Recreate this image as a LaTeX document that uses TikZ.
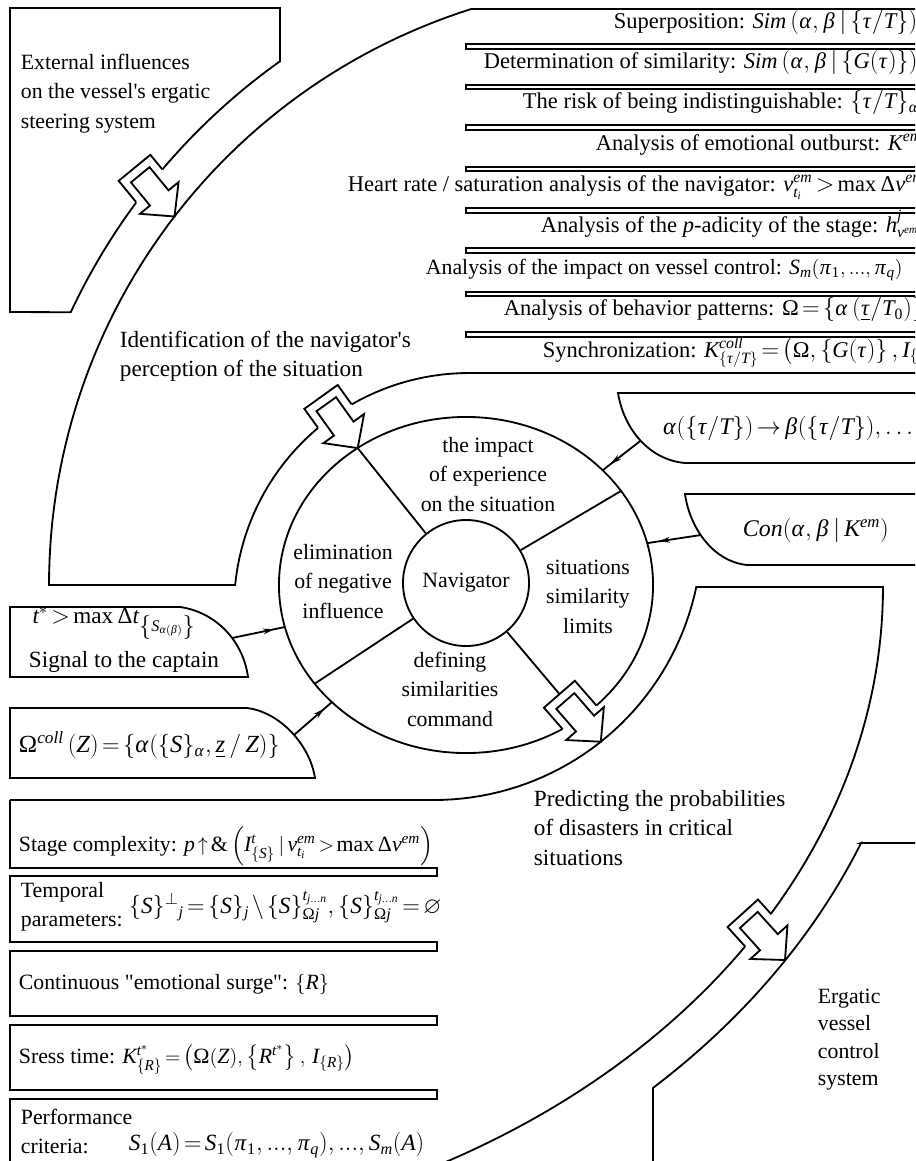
\documentclass[tikz,border=0pt]{standalone}
\usepackage{amssymb}
\usepackage{mathspec}
\setmainfont{Liberation Serif}
\setmathsfont(Digits,Latin,Greek){Liberation Serif}
\usetikzlibrary{decorations.markings, arrows.meta}
\thickmuskip=2.5mu plus 1mu
\medmuskip=2mu plus 1mu
\newcommand{\tmax}{\mbox{max}\,}

% hollow block arrow: #1 tip, #2 direction, #3 region on the tail side of the crossed line
\newcommand{\hollowarrow}[3]{%
  \fill[white, shift={(#1)}, rotate=-#2] (-22,-20.5) -- (-63,-20.5) -- (-63,20.5) -- (-22,20.5) -- cycle;
  \begin{scope}[even odd rule]
    \clip #3;
    \draw[shift={(#1)}, rotate=-#2] (-22,-20.5) -- (-63,-20.5) -- (-63,20.5) -- (-22,20.5);
  \end{scope}
  \draw[fill=white, shift={(#1)}, rotate=-#2] (0,0) -- (-24,25) -- (-24,12) -- (-54,12)
    -- (-54,-12) -- (-24,-12) -- (-24,-25) -- cycle;
}

\begin{document}
\begin{tikzpicture}[x=0.025cm, y=-0.025cm, line width=1.3pt, line join=miter,
    font=\fontsize{16.5}{21}\selectfont,
    txt/.style={inner sep=0pt},
    small text/.style={inner sep=0pt, font=\fontsize{15.5}{21}\selectfont},
    sector/.style={small text, align=center, anchor=north},
    bar/.style={inner sep=0pt, anchor=base west, font=\fontsize{16}{21}\selectfont},
    arrow style/.style={
        postaction={decorate},
        decoration={markings, mark=at position 0.8 with {\arrow{Stealth[length=8pt, width=4pt]}}}
    }]

    \useasboundingbox (0,0) rectangle (915,1161);
    \clip (0,0) rectangle (915,1161);

    % box, top left
    \draw (10,8) -- (280,8) -- (280,61.5)
        -- plot[domain=234.5:205.1, samples=40] ({653+643*cos(\x)},{585+643*sin(\x)}) -- (10,312) -- cycle;
    % band round the top left
    \draw (920,9) -- (471.4,9)
        -- plot[domain=252.5:180, samples=60] ({653+604*cos(\x)},{585+604*sin(\x)})
        -- plot[domain=185.6:270, samples=40] ({469+235*cos(\x)},{608+235*sin(\x)}) -- (920,373);
    % band round the bottom right
    \draw (10,800)
        -- plot[domain=90:11.84, samples=40] ({434+268*cos(\x)},{532+268*sin(\x)})
        -- plot[domain=0:63, samples=60] ({40+843*cos(\x)},{587+656*sin(\x)});
    % box, bottom right
    \draw (920,843) -- (861,843)
        -- plot[domain=21.58:46.03, samples=40] ({40+883*cos(\x)},{587+696*sin(\x)}) -- (653,1170);

    % stack, top right
    \draw (920,44) -- (466,44) -- (466,49) -- (920,49);
    \draw (920,85) -- (466,85) -- (466,89) -- (920,89);
    \draw (920,125) -- (466,125) -- (466,130) -- (920,130);
    \draw (920,167) -- (466,167) -- (466,171) -- (920,171);
    \draw (920,208) -- (466,208) -- (466,213) -- (920,213);
    \draw (920,248) -- (466,248) -- (466,253) -- (920,253);
    \draw (920,292) -- (466,292) -- (466,296) -- (920,296);
    \draw (920,332) -- (466,332) -- (466,337) -- (920,337);

    % stack, bottom left
    \draw (10,800) -- (10,868) -- (437,868) -- (437,876) -- (10,876) -- (10,942) -- (437,942)
        -- (437,951) -- (10,951) -- (10,1016) -- (437,1016) -- (437,1025) -- (10,1025)
        -- (10,1090) -- (437,1090) -- (437,1099) -- (10,1099) -- (10,1170);

    % boxes with a curved side
    \draw (920,393) -- (618,393) .. controls (624,430) and (650,460) .. (685,463) -- (920,463);
    \draw (920,494) -- (685,494) .. controls (690,530) and (715,562) .. (747,565) -- (920,565);
    \draw (10,607) -- (180,607) .. controls (215,612) and (243,640) .. (248,677) -- (10,677) -- cycle;
    \draw (10,708) -- (247,708) .. controls (280,712) and (310,745) .. (315,778) -- (10,778) -- cycle;

    % ring and navigator
    \draw (466,585) ellipse[x radius=4.675cm, y radius=4.2cm];
    \node[circle, draw, minimum size=3.15cm, small text] (nav) at (466,583) {Navigator};

    \coordinate (tip1) at (174.5,216.5);
    \coordinate (tip2) at (357.7,448.1);
    \coordinate (tip3) at (600.8,741.7);
    \coordinate (tip4) at (785,960);
    \coordinate (tail3) at (565.3,701);
    \coordinate (ringNE) at (621,491);
    \coordinate (ringSW) at (314.7,683.7);

    \draw (nav.129) -- (tip2);
    \draw (nav.31) -- (ringNE);
    \draw (nav.214) -- (ringSW);
    \draw (nav.310) -- (tail3);

    % inputs to the ring
    \coordinate (fromAlpha) at (640.6,440.7);
    \coordinate (toAlpha) at (603,470);
    \coordinate (fromCon) at (701,535);
    \coordinate (toCon) at (648,543);
    \coordinate (fromSig) at (232,638);
    \coordinate (toSig) at (285,627);
    \coordinate (fromOmega) at (294,735);
    \coordinate (toOmega) at (332,702);
    \draw[arrow style] (fromAlpha) -- (toAlpha);
    \draw[arrow style] (fromCon) -- (toCon);
    \draw[arrow style] (fromSig) -- (toSig);
    \draw[arrow style] (fromOmega) -- (toOmega);

    \hollowarrow{tip1}{50.6}{(0,0) rectangle (915,1161) (653,585) circle[radius=16.075cm]}
    \hollowarrow{tip2}{54.4}{(0,0) rectangle (915,1161) (469,608) circle[radius=5.875cm]}
    \hollowarrow{tip3}{48.9}{(466,585) ellipse[x radius=4.675cm, y radius=4.2cm]}
    \hollowarrow{tip4}{47.9}{(40,587) ellipse[x radius=21.075cm, y radius=16.4cm]}

    % texts
    \node[small text, anchor=north west, align=left] (ext) at (20,53)
        {External influences\\on the vessel\textquotesingle s ergatic\\steering system};
    \node[txt, anchor=north west, align=left] (ident) at (119,330)
        {Identification of the navigator\textquotesingle s\\perception of the situation};
    \node[txt, anchor=north west, align=left] (pred) at (533,789)
        {Predicting the probabilities\\of disasters in critical\\situations};
    \node[small text, anchor=north west, align=left, font=\fontsize{15.5}{19.5}\selectfont] (ergatic) at (817,988)
        {Ergatic\\vessel\\control\\system};

    \node[sector] (impact) at (488,436) {the impact\\of experience\\on the situation};
    \node[sector] (limits) at (588,559) {situations\\similarity\\limits};
    \node[sector] (elim) at (343,543) {elimination\\of negative\\influence};
    \node[sector] (defin) at (450,651) {defining\\similarities\\command};

    \node[bar] (sup) at (613,28.5)
        {Superposition: $Sim\left(\alpha,\beta\,|\,\{\tau/T\}\right)$};
    \node[bar] (det) at (483,69)
        {Determination of similarity: $Sim\left(\alpha,\beta\,|\,\{G(\tau)\}\right)$};
    \node[bar] (risk) at (522,109)
        {The risk of being indistinguishable: $\{\tau/T\}_{\alpha}$};
    \node[bar] (emo) at (595,150.5)
        {Analysis of emotional outburst: $K^{em}$};
    \node[bar] (heart) at (347,191.5)
        {Heart rate / saturation analysis of the navigator: $v^{em}_{t_i}>\tmax\Delta v^{em}$};
    \node[bar] (padic) at (540,232.5)
        {Analysis of the $p$-adicity of the stage: $h^{j}_{v^{em}}$};
    \node[bar, font=\fontsize{15.5}{21}\selectfont] (control) at (425,274.5)
        {Analysis of the impact on vessel control: $S_m\bigl(\pi_1,...,\pi_q\bigr)$};
    \node[bar] (behav) at (503,316)
        {Analysis of behavior patterns: $\Omega=\left\{\alpha\left(\underline{\tau}/T_0\right)\right\}$};
    \node[bar] (sync) at (542,357)
        {Synchronization: $K^{coll}_{\{\tau/T\}}=\left(\Omega,\left\{G(\tau)\right\},I_{\{\tau/T\}}\right)$};

    \node[txt, anchor=west, font=\fontsize{17}{21}\selectfont] (alphaTxt) at (662,428)
        {$\alpha\bigl(\{\tau/T\}\bigr)\to\beta\bigl(\{\tau/T\}\bigr),\ldots$};
    \node[txt, anchor=west, font=\fontsize{17}{21}\selectfont] (conTxt) at (742,530)
        {$Con\bigl(\alpha,\beta\,|\,K^{em}\bigr)$};
    \node[txt] (tStar) at (114,623) {$t^{*}>\tmax\Delta t_{\left\{S_{\alpha(\beta)}\right\}}$};
    \node[txt] (signal) at (124,662) {Signal to the captain};
    \node[txt, anchor=west, font=\fontsize{17.5}{21}\selectfont] (omegaTxt) at (18,745)
        {$\Omega^{coll}\,(Z)=\Bigl\{\alpha\bigl(\{S\}_{\alpha},\underline{z}\,/\,Z\bigr)\Bigr\}$};

    \node[small text, anchor=base west] (stage) at (18,851)
        {Stage complexity: $p\uparrow\mbox{\&}\left(I^{t}_{\{S\}}\,|\,v^{em}_{t_i}>\tmax\Delta v^{em}\right)$};
    \node[small text, anchor=north west, align=left] (temporal) at (20,881) {Temporal\\parameters:};
    \node[txt, anchor=west] (temporalF) at (128,907)
        {$\{S\}^{\perp}{}_{j}=\{S\}_{j}\setminus\{S\}^{t_{j...n}}_{\Omega j},\{S\}^{t_{j...n}}_{\Omega j}=\varnothing$};
    \node[small text, anchor=base west] (surge) at (18,989)
        {Continuous \textquotedbl emotional surge\textquotedbl: $\{R\}$};
    \node[small text, anchor=base west] (stress) at (18,1063)
        {Sress time: $K^{t^{*}}_{\{R\}}=\left(\Omega(Z),\left\{R^{t^{*}}\right\},\,I_{\{R\}}\right)$};
    \node[small text, anchor=north west, align=left] (perf) at (20,1108) {Performance\\criteria:};
    \node[txt, anchor=west] (perfF) at (128,1145)
        {$S_1(A)=S_1\bigl(\pi_1,...,\pi_q\bigr),...,S_m(A)$};
\end{tikzpicture}
\end{document}
